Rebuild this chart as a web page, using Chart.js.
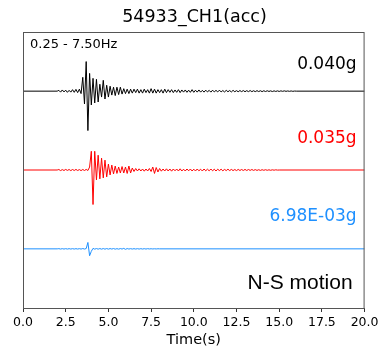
<!DOCTYPE html>
<html>
<head>
<meta charset="utf-8">
<script src="https://cdn.jsdelivr.net/npm/chart.js@4"></script>
<style>
html, body { margin: 0; padding: 0; background: #fff; }
</style>
</head>
<body>
<canvas id="chart" width="382" height="346"></canvas>
<script>
// every record starts at t0 and is sampled every dt seconds; flat before and after
const t0 = 2.0;
const dt = 0.1;
const tEnd = 20;

// acceleration, milli-g
const ns1 = [
  0, 0.8, -1, 1.2, -0.8, 1, -1.2, 0.8, -1, 1.5,
  -1.2, 1.8, -1.5, 2, -2.5, 14, -13, 30, -40, 18,
  -14, 13, -12, 12, -11, 7, -6, 11, -8, 6,
  -6, 5, -4, 4, -4.5, 4, -3.5, 4, -3, 2.5,
  -2.5, 2, -2.5, 2, -2, 2, -1.5, 2, -2, 1.5,
  -2, 2, -1.5, 1.5, -2, 2.5, -2, 2, -2, 1.5,
  -1.5, 1.5, -2, 2, -1.5, 1.5, -1.2, 1.5, -1.5, 1.2,
  -1.2, 1.5, -1.5, 1.2, -1, 1.2, -1.2, 1, -1.2, 1.5,
  -1.2, 1, -1, 1.2, -1, 0.8, -1, 1, -0.8, 0.8,
  -1, 1, -0.8, 0.8, -0.8, 1, -0.8, 0.6, -0.8, 0.8,
  -0.6, 0.6, -0.8, 0.8, -0.6, 0.5, -0.6, 0.6, -0.5, 0.6,
  -0.6, 0.5, -0.5, 0.6, -0.5, 0.4, -0.5, 0.5, -0.4, 0.4,
  -0.5, 0.4, -0.4, 0.4, -0.3, 0.3, -0.4, 0.3, -0.3, 0.3,
  -0.3, 0.3, -0.2, 0.3, -0.2, 0.2, -0.2, 0.2, -0.2, 0.1,
  0
];
const ns2 = [
  0, 0.5, -0.6, 0.4, -0.5, 0.6, -0.4, 0.5, -0.6, 0.5,
  -0.5, 0.6, -0.5, 0.4, -0.6, 0.5, -0.5, 0.6, -0.5, 3,
  19, -35, 19, -10, 15, -9, 12, -8, 10, -7,
  6, -5, 5, -4, 4, -3.5, 3, -3, 3.5, -3,
  3, -3.5, 4, -3, 2, -1.5, 1.5, -1, 1.2, -1,
  1, -1.2, 1, -1, 1.5, -1.5, 3, -3.5, 2.5, -2,
  1.5, -1.2, 1, -1, 1.2, -1, 1, -1.2, 1, -0.8,
  1, -1, 1.2, -1, 0.8, -1, 1, -0.8, 1, -1,
  0.8, -1, 1, -0.8, 0.8, -1, 1, -0.8, 0.8, -0.8,
  1, -0.8, 0.8, -1, 0.8, -0.6, 0.8, -0.8, 0.6, -0.6,
  0.8, -0.6, 0.6, -0.6, 0.5, -0.6, 0.6, -0.5, 0.5, -0.5,
  0.6, -0.5, 0.5, -0.4, 0.5, -0.4, 0.4, -0.4, 0.3, -0.4,
  0.3, -0.3, 0.3, -0.3, 0.2, -0.3, 0.2, -0.2, 0.2, -0.1,
  0
];
const ns3 = [
  0, 0.2, -0.2, 0.2, -0.2, 0.2, -0.2, 0.2, -0.2, 0.2,
  -0.2, 0.2, -0.2, 0.2, -0.2, 0.3, -0.2, 0.3, 6.5, -6.98,
  -2.5, 0.5, -0.3, 0.3, -0.3, 0.3, -0.3, 0.3, -0.3, 0.3,
  -0.3, 0.3, -0.2, 0.3, -0.3, 0.2, -0.3, 0.3, -0.2, 0.5,
  -0.5, 0.3, -0.2, 0.2, -0.2, 0.2, -0.2, 0.2, -0.2, 0.2,
  -0.2, 0.2, -0.2, 0.2, -0.1, 0.1, -0.1, 0.1, -0.1, 0.1,
  0
];

const records = [ns1, ns2, ns3];
const traceColors = ['#000000', '#ff0000', '#1e90ff'];
const traceOffsets = [0, -0.08, -0.16];   // g, each record is shifted down by 0.08
const peakLabels = ['0.040g', '0.035g', '6.98E-03g'];
const filterLabel = '0.25 - 7.50Hz';
const componentLabel = 'N-S motion';
const chartTitle = '54933_CH1(acc)';
const xTitle = 'Time(s)';

function toPoints(vals, offset) {
  const pts = [{ x: 0, y: offset }];
  vals.forEach((v, i) => {
    pts.push({ x: Math.round((t0 + i * dt) * 10) / 10, y: offset + v / 1000 });
  });
  pts.push({ x: tEnd, y: offset });
  return pts;
}

const datasets = records.map((r, i) => ({
  data: toPoints(r, traceOffsets[i]),
  borderColor: traceColors[i],
  borderWidth: 1,
  pointRadius: 0,
  tension: 0,
  fill: false
}));

// frame + text inside the axes
const annotate = {
  id: 'annotate',
  afterDatasetsDraw(chart) {
    const { ctx, chartArea: a } = chart;
    ctx.save();
    ctx.strokeStyle = '#555';
    ctx.lineWidth = 1;
    ctx.strokeRect(a.left + 0.5, a.top + 0.5, a.right - a.left - 1, a.bottom - a.top);

    ctx.fillStyle = '#000';
    ctx.textBaseline = 'alphabetic';
    ctx.textAlign = 'left';
    ctx.font = '13px "DejaVu Sans"';
    ctx.fillText(filterLabel, a.left + 7, a.top + 16);

    ctx.textAlign = 'right';
    ctx.font = '17px "DejaVu Sans"';
    const rows = [37, 111, 189];
    peakLabels.forEach((t, i) => {
      ctx.fillStyle = traceColors[i];
      ctx.fillText(t, a.right - 8, a.top + rows[i]);
    });

    ctx.fillStyle = '#000';
    ctx.font = '21px "Liberation Sans"';
    ctx.fillText(componentLabel, a.right - 12, a.top + 257);
    ctx.restore();
  }
};

new Chart(document.getElementById('chart'), {
  type: 'line',
  data: { datasets },
  plugins: [annotate],
  options: {
    responsive: false,
    animation: false,
    devicePixelRatio: 1,
    parsing: false,
    layout: { padding: { left: 23, right: 16, top: 0, bottom: 0 } },
    plugins: {
      legend: { display: false },
      tooltip: { enabled: false },
      title: {
        display: true,
        text: chartTitle,
        color: '#000',
        font: { family: 'DejaVu Sans', size: 17.5, weight: 'normal' },
        padding: { top: 7, bottom: 4 }
      }
    },
    scales: {
      x: {
        type: 'linear',
        min: 0,
        max: tEnd,
        ticks: {
          stepSize: 2.5,
          callback: v => v.toFixed(1),
          color: '#000',
          font: { family: 'DejaVu Sans', size: 12.5 },
          padding: 3.5,
          maxRotation: 0,
          autoSkip: false
        },
        grid: { drawOnChartArea: false, tickLength: 4, color: '#333' },
        border: { color: '#555', width: 1 },
        title: {
          display: true,
          text: xTitle,
          color: '#000',
          font: { family: 'DejaVu Sans', size: 14.5, lineHeight: 0.8 },
          padding: { top: 0, bottom: 0 }
        },
        afterFit: s => { s.height = 38; }
      },
      y: { display: false, min: -0.22, max: 0.06 }
    }
  }
});
</script>
</body>
</html>
